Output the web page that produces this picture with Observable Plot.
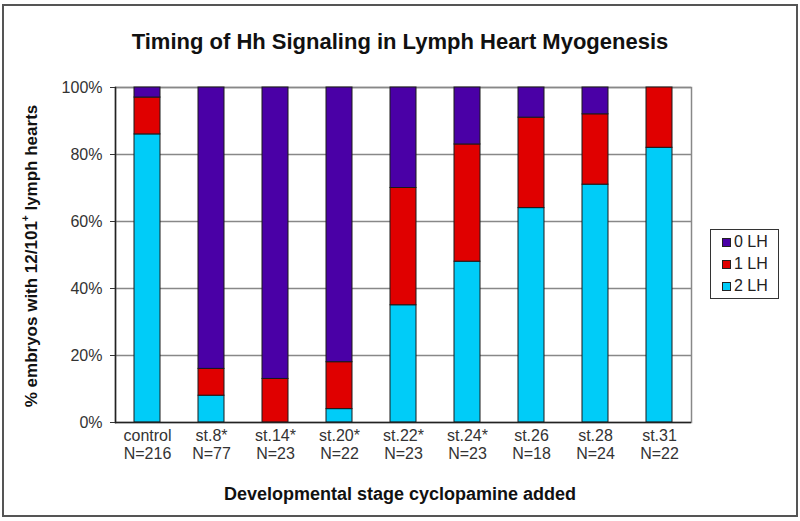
<!DOCTYPE html>
<html>
<head>
<meta charset="utf-8">
<script src="https://cdn.jsdelivr.net/npm/d3@7"></script>
<script src="https://cdn.jsdelivr.net/npm/@observablehq/plot@0.6"></script>
<style>
  html, body { margin: 0; padding: 0; background: #fff; }
  #wrap { position: relative; width: 800px; height: 521px; font-family: "Liberation Sans", Arial, sans-serif; }
  #chart { position: absolute; left: 0; top: 0; }
  .frame { position: absolute; left: 2px; top: 4px; width: 796px; height: 513px; border: 2px solid #555; box-sizing: border-box; pointer-events: none; }
  .title { position: absolute; left: 0; width: 800px; top: 29px; text-align: center; font-weight: bold; font-size: 22px; color: #111; }
  .xlabel { position: absolute; left: 0; width: 800px; top: 484px; text-align: center; font-weight: bold; font-size: 18px; color: #111; }
  .ylabel { position: absolute; left: 32px; top: 256px; transform: translate(-50%, -50%) rotate(-90deg); white-space: nowrap; font-weight: bold; font-size: 17px; color: #111; }
  .ylabel sup { font-size: 10px; vertical-align: 8px; line-height: 0; }
  .legend { position: absolute; left: 710px; top: 229px; width: 69px; height: 70px; border: 1px solid #333; box-sizing: border-box; background: #fff; }
  .item { position: absolute; left: 11px; height: 22px; display: flex; align-items: center; font-size: 16px; color: #222; }
  .sw { width: 9px; height: 9px; border: 1px solid #222; margin-right: 3px; box-sizing: border-box; }
</style>
</head>
<body>
<div id="wrap">
  <div id="chart"></div>
  <div class="frame"></div>
  <div class="title">Timing of Hh Signaling in Lymph Heart Myogenesis</div>
  <div class="ylabel">% embryos with 12/101<sup>+</sup> lymph hearts</div>
  <div class="xlabel">Developmental stage cyclopamine added</div>
  <div class="legend" id="legend"></div>
</div>
<script>
// ---- data ----
const stages = ["control", "st.8*", "st.14*", "st.20*", "st.22*", "st.24*", "st.26", "st.28", "st.31"];
const counts = [216, 77, 23, 22, 23, 23, 18, 24, 22];
const lh2 = [86, 8, 0, 4, 35, 48, 64, 71, 82];
const lh1 = [11, 8, 13, 14, 35, 35, 27, 21, 18];
const lh0 = [3, 84, 87, 82, 30, 17, 9, 8, 0];
const seriesNames = ["0 LH", "1 LH", "2 LH"];
const seriesColors = ["#4a00a6", "#e00000", "#00ccf8"];
const yTicks = [0, 20, 40, 60, 80, 100];

// long table, bottom of stack first
const rows = [];
stages.forEach((s, i) => {
  rows.push({stage: s, series: "2 LH", value: lh2[i]});
  rows.push({stage: s, series: "1 LH", value: lh1[i]});
  rows.push({stage: s, series: "0 LH", value: lh0[i]});
});
const nByStage = new Map(stages.map((s, i) => [s, counts[i]]));

const chart = Plot.plot({
  width: 800,
  height: 521,
  marginLeft: 115,
  marginRight: 109,
  marginTop: 87,
  marginBottom: 99,
  style: {fontFamily: "'Liberation Sans', Arial, sans-serif", background: "transparent", overflow: "visible"},
  x: {domain: stages, paddingInner: 0.6, paddingOuter: 0.3, label: null},
  y: {domain: [0, 100], label: null},
  color: {domain: seriesNames, range: seriesColors},
  marks: [
    Plot.ruleY(yTicks.slice(1), {stroke: "#888", strokeWidth: 1.5}),
    Plot.frame({stroke: "#888", strokeWidth: 1.5}),
    Plot.barY(rows, {x: "stage", y: "value", fill: "series", order: ["2 LH", "1 LH", "0 LH"], stroke: "#1a1a1a", strokeWidth: 1}),
    Plot.frame({anchor: "left", stroke: "#222", strokeWidth: 1.5}),
    Plot.ruleY([0], {stroke: "#222", strokeWidth: 1.5}),
    Plot.axisY({ticks: yTicks, tickFormat: d => d + "%", tickSize: 5, tickPadding: 8, fontSize: 16, color: "#333", label: null}),
    Plot.axisX({tickSize: 0, tickPadding: 6, fontSize: 16, lineHeight: 1.1, color: "#333", label: null,
      tickFormat: d => d + "\nN=" + nByStage.get(d)})
  ]
});
document.getElementById("chart").appendChild(chart);

// legend
const legend = document.getElementById("legend");
seriesNames.forEach((name, i) => {
  const it = document.createElement("div");
  it.className = "item";
  it.style.top = (1 + i * 22) + "px";
  const sw = document.createElement("div");
  sw.className = "sw";
  sw.style.background = seriesColors[i];
  it.appendChild(sw);
  it.appendChild(document.createTextNode(name));
  legend.appendChild(it);
});
</script>
</body>
</html>
